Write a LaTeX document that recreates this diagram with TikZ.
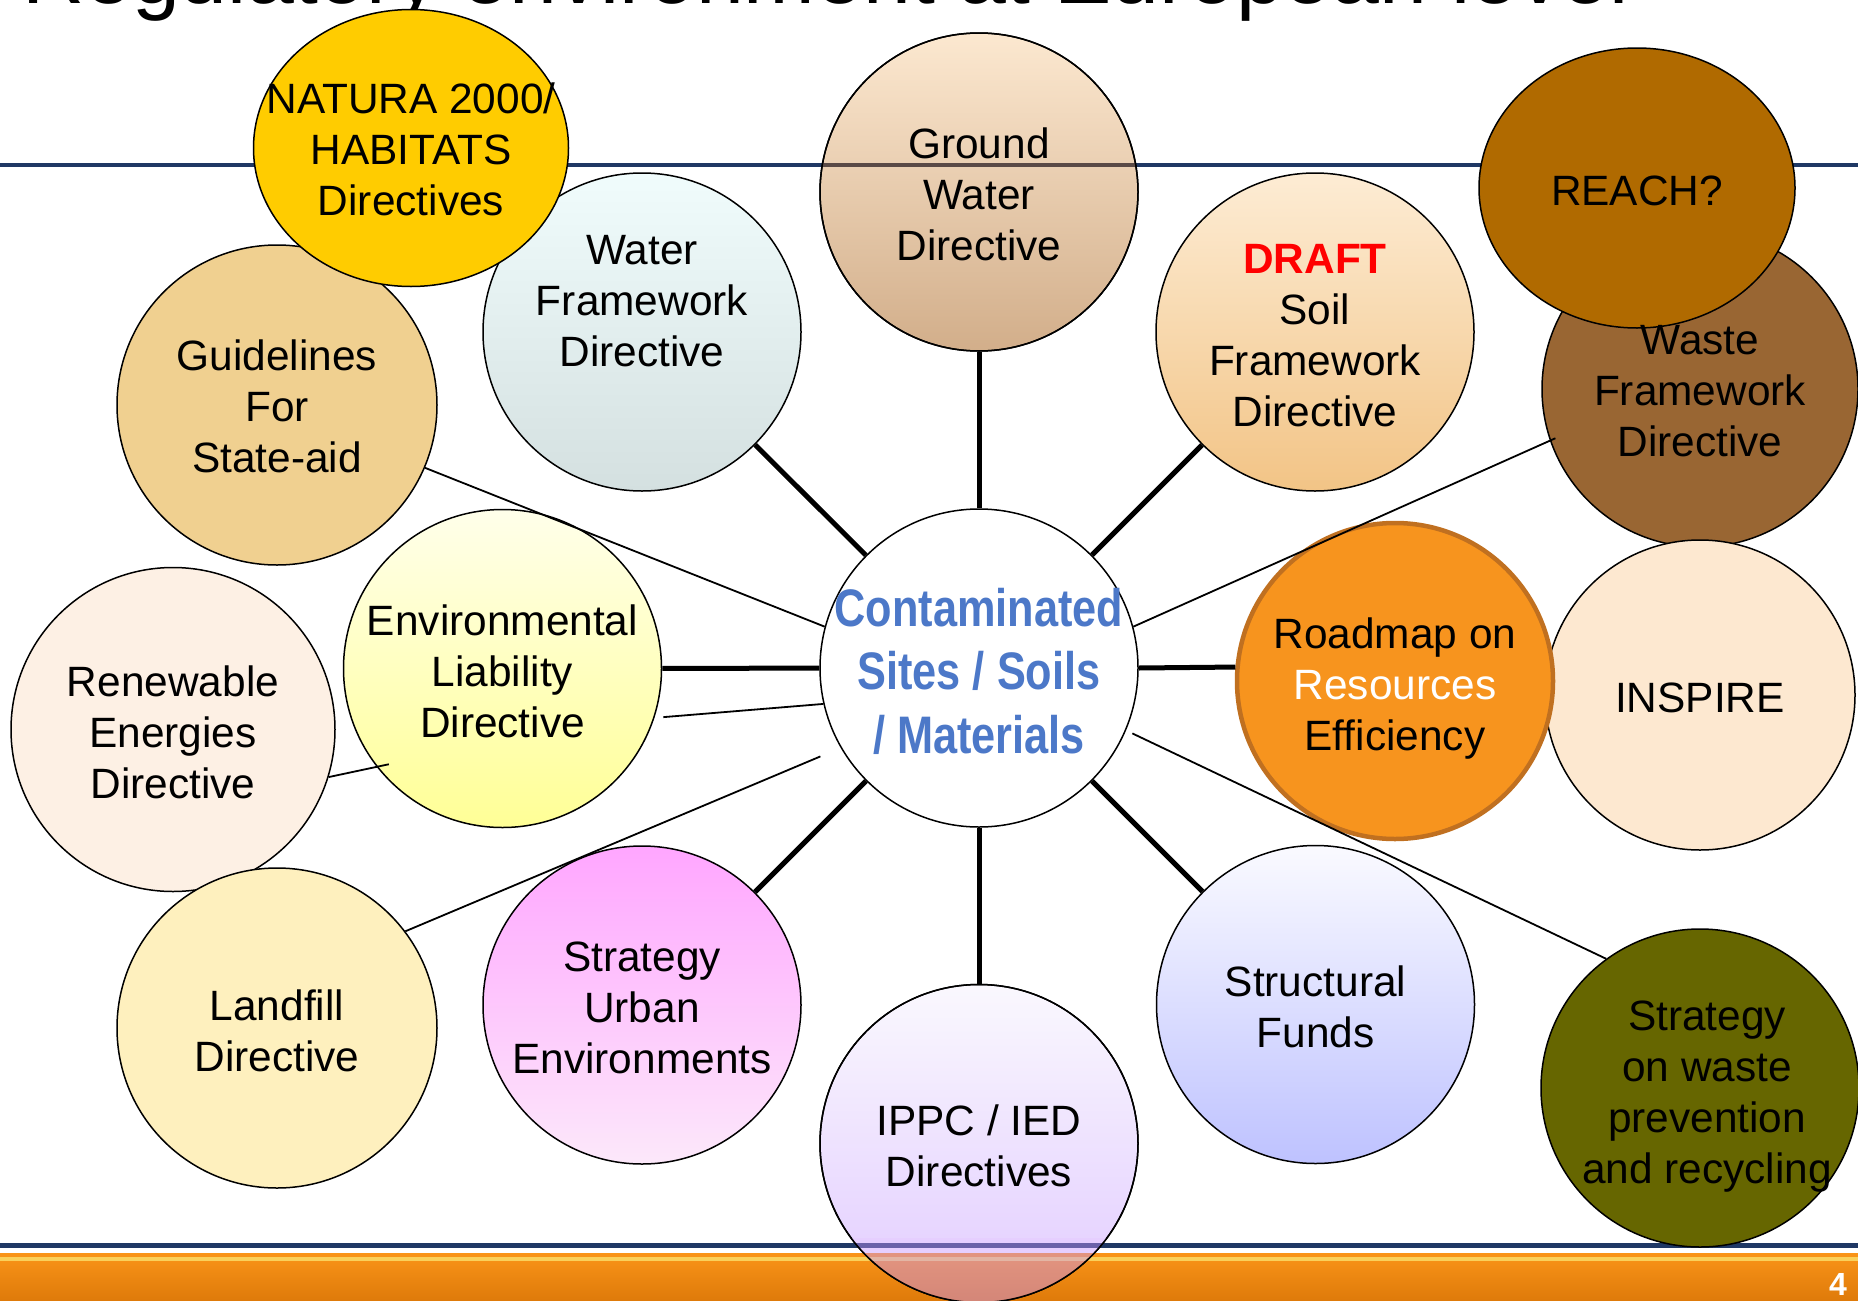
\documentclass[tikz,border=0pt]{standalone}
\usepackage{fontspec}
\setmainfont{Liberation Sans}
\newfontfamily\narrowfont[FakeStretch=0.82]{Liberation Sans}
\usetikzlibrary{shapes.geometric}
\definecolor{navy}{RGB}{31,56,100}
\definecolor{bandtop}{RGB}{250,148,24}
\definecolor{bandbot}{RGB}{222,122,10}
\definecolor{stripe}{RGB}{250,208,90}
\definecolor{gwline}{RGB}{90,74,70}
\definecolor{natura}{RGB}{255,204,0}
\definecolor{guid}{RGB}{240,208,144}
\definecolor{ren}{RGB}{253,240,228}
\definecolor{land}{RGB}{254,240,190}
\definecolor{waste}{RGB}{153,102,51}
\definecolor{reach}{RGB}{176,106,0}
\definecolor{inspire}{RGB}{253,232,208}
\definecolor{road}{RGB}{247,148,30}
\definecolor{roadb}{RGB}{192,112,32}
\definecolor{strat}{RGB}{102,102,0}
\definecolor{waterT}{RGB}{240,252,252}
\definecolor{waterB}{RGB}{212,224,224}
\definecolor{gwT}{RGB}{252,232,208}
\definecolor{gwB}{RGB}{210,174,138}
\definecolor{draftT}{RGB}{253,236,212}
\definecolor{draftB}{RGB}{242,196,134}
\definecolor{envT}{RGB}{255,255,234}
\definecolor{envB}{RGB}{255,255,150}
\definecolor{urbT}{RGB}{255,166,255}
\definecolor{urbB}{RGB}{252,232,250}
\definecolor{ippcT}{RGB}{250,248,254}
\definecolor{ippcB}{RGB}{226,204,255}
\definecolor{strT}{RGB}{250,250,255}
\definecolor{strB}{RGB}{190,194,255}
\definecolor{cblue}{RGB}{76,120,200}
\definecolor{lav}{RGB}{200,150,255}
\begin{document}
\begin{tikzpicture}[x=1pt,y=-1pt,
  bub/.style={circle,draw=black,line width=1.5pt,minimum size=318pt,inner sep=0pt},
  oval/.style={ellipse,draw=black,line width=1.5pt,inner sep=0pt},
  txt/.style={align=center,inner sep=0pt,font=\fontsize{42.4}{51}\selectfont},
  spoke/.style={line width=5pt},
  link/.style={line width=1.8pt},
]
\useasboundingbox (0,0) rectangle (1858,1301);
\begin{scope}
\clip (0,0) rectangle (1858,1301);
% title (cut off at the top edge) and slide decorations
\node[anchor=base west,inner sep=0pt,font=\fontsize{86}{100}\selectfont] (title) at (22,3) {Regulatory environment at European level};
\fill[navy] (0,162.7) rectangle (1858,166.7);
\fill[navy] (0,1243) rectangle (1858,1248);
\shade[top color=bandtop,bottom color=bandbot] (0,1253) rectangle (1858,1301);
\fill[stripe] (0,1256.5) rectangle (1858,1261);
\node[text=white,font=\bfseries\fontsize{32}{36}\selectfont,inner sep=0pt] (pg) at (1838,1284) {4};

% circles
\node[bub,top color=waterT,bottom color=waterB] (water) at (642,332) {};
\node[bub,top color=gwT,bottom color=gwB] (ground) at (979,192) {};
\begin{scope}
\clip (ground.center) circle[radius=159pt];
\fill[gwline] (0,162.7) rectangle (1858,166.7);
\end{scope}
\draw[line width=1.5pt] (ground.center) circle[radius=159pt];
\node[bub,top color=draftT,bottom color=draftB] (draft) at (1315,332) {};
\node[bub,fill=guid,minimum size=320pt] (guid) at (277,405) {};
\node[oval,fill=natura,minimum width=315pt,minimum height=277pt] (natura) at (411,148) {};
\node[bub,fill=waste,minimum size=316pt] (waste) at (1700,389) {};
\node[oval,fill=reach,minimum width=316pt,minimum height=280pt] (reach) at (1637,188) {};
\node[bub,fill=inspire,minimum size=310pt] (inspire) at (1700,695) {};
\node[bub,fill=road,draw=roadb,line width=4.5pt,minimum size=316pt] (road) at (1395,681) {};
\node[bub,top color=envT,bottom color=envB] (env) at (502.5,668.5) {};
\node[bub,fill=ren,minimum size=324pt] (ren) at (173,729.5) {};
\node[bub,fill=land,minimum size=320pt] (land) at (277,1028) {};
\node[bub,top color=urbT,bottom color=urbB] (urban) at (642,1005) {};
\node[bub,fill=white] (c) at (979,668) {};
\node[bub,top color=strT,bottom color=strB] (struct) at (1315.5,1004.5) {};
\node[bub,fill=strat] (strat) at (1700,1088) {};
\node[bub,top color=ippcT,bottom color=ippcB] (ippc) at (979,1143.5) {};
\begin{scope}
\clip (ippc.center) circle[radius=159pt];
\clip (0,1238) rectangle (1858,1301);
\fill[white] (0,1238) rectangle (1858,1301);
\fill[navy] (0,1243) rectangle (1858,1248);
\shade[top color=bandtop,bottom color=bandbot] (0,1253) rectangle (1858,1301);
\fill[stripe] (0,1256.5) rectangle (1858,1261);
\fill[lav,opacity=0.45] (0,1238) rectangle (1858,1301);
\end{scope}
\draw[line width=1.5pt] (ippc.center) circle[radius=159pt];

% connectors
\draw[spoke] (c) -- (water);
\draw[spoke] (c) -- (ground);
\draw[spoke] (c) -- (draft);
\draw[spoke] (c) -- (env);
\draw[spoke] (c.east) -- (road.175.4);
\draw[spoke] (c) -- (urban);
\draw[spoke] (c) -- (ippc);
\draw[spoke] (c) -- (struct);
\draw[link] (guid.-23.6) -- (c.165.8);
\draw[link,shorten >=-12.5pt] (ren.-17.8) -- (env.218.4);
\draw[link,shorten <=9pt] (env.-18.8) -- (c.193.2);
\draw[link,shorten >=22pt] (land.37.3) -- (c.210.3);
\draw[link,shorten >=-6pt] (c.15.1) -- (waste.199);
\draw[link,shorten <=7pt] (c.-23.7) -- (strat.126.6);

% texts
\node[txt] (natura-t) at ([yshift=-1.5pt]natura.center) {NATURA 2000/\\HABITATS\\Directives};
\node[txt] (water-t) at (642,301) {Water\\Framework\\Directive};
\node[txt] (ground-t) at ([yshift=-2.5pt]ground.center) {Ground\\Water\\Directive};
\node[txt] (draft-t) at ([yshift=-3.5pt]draft.center) {{\bfseries\color{red}DRAFT}\\Soil\\Framework\\Directive};
\node[txt] (reach-t) at ([yshift=-2.5pt]reach.center) {REACH?};
\node[txt] (waste-t) at ([yshift=-2pt]waste.center) {Waste\\Framework\\Directive};
\node[txt] (guid-t) at ([yshift=-1.5pt]guid.center) {Guidelines\\For\\State-aid};
\node[txt] (env-t) at ([yshift=-2.5pt]env.center) {Environmental\\Liability\\Directive};
\node[txt] (ren-t) at ([yshift=-3pt]ren.center) {Renewable\\Energies\\Directive};
\node[align=center,inner sep=0pt,text=cblue,font=\narrowfont\bfseries\fontsize{52.8}{63.4}\selectfont] (c-t) at ([yshift=-3pt]c.center) {Contaminated\\Sites / Soils\\/ Materials};
\node[txt] (road-t) at ([yshift=-8pt]road.center) {Roadmap on\\{\color{white}Resources}\\Efficiency};
\node[txt] (inspire-t) at ([yshift=-2.5pt]inspire.center) {INSPIRE};
\node[txt] (land-t) at ([yshift=-2.5pt]land.center) {Landfill\\Directive};
\node[txt] (urban-t) at ([yshift=-2.5pt]urban.center) {Strategy\\Urban\\Environments};
\node[txt] (ippc-t) at ([yshift=-2pt]ippc.center) {IPPC / IED\\Directives};
\node[txt] (struct-t) at ([yshift=-2.5pt]struct.center) {Structural\\Funds};
\node[txt] (strat-t) at ([xshift=7pt,yshift=-9pt]strat.center) {Strategy\\on waste\\prevention\\and recycling};
\end{scope}
\end{tikzpicture}
\end{document}
